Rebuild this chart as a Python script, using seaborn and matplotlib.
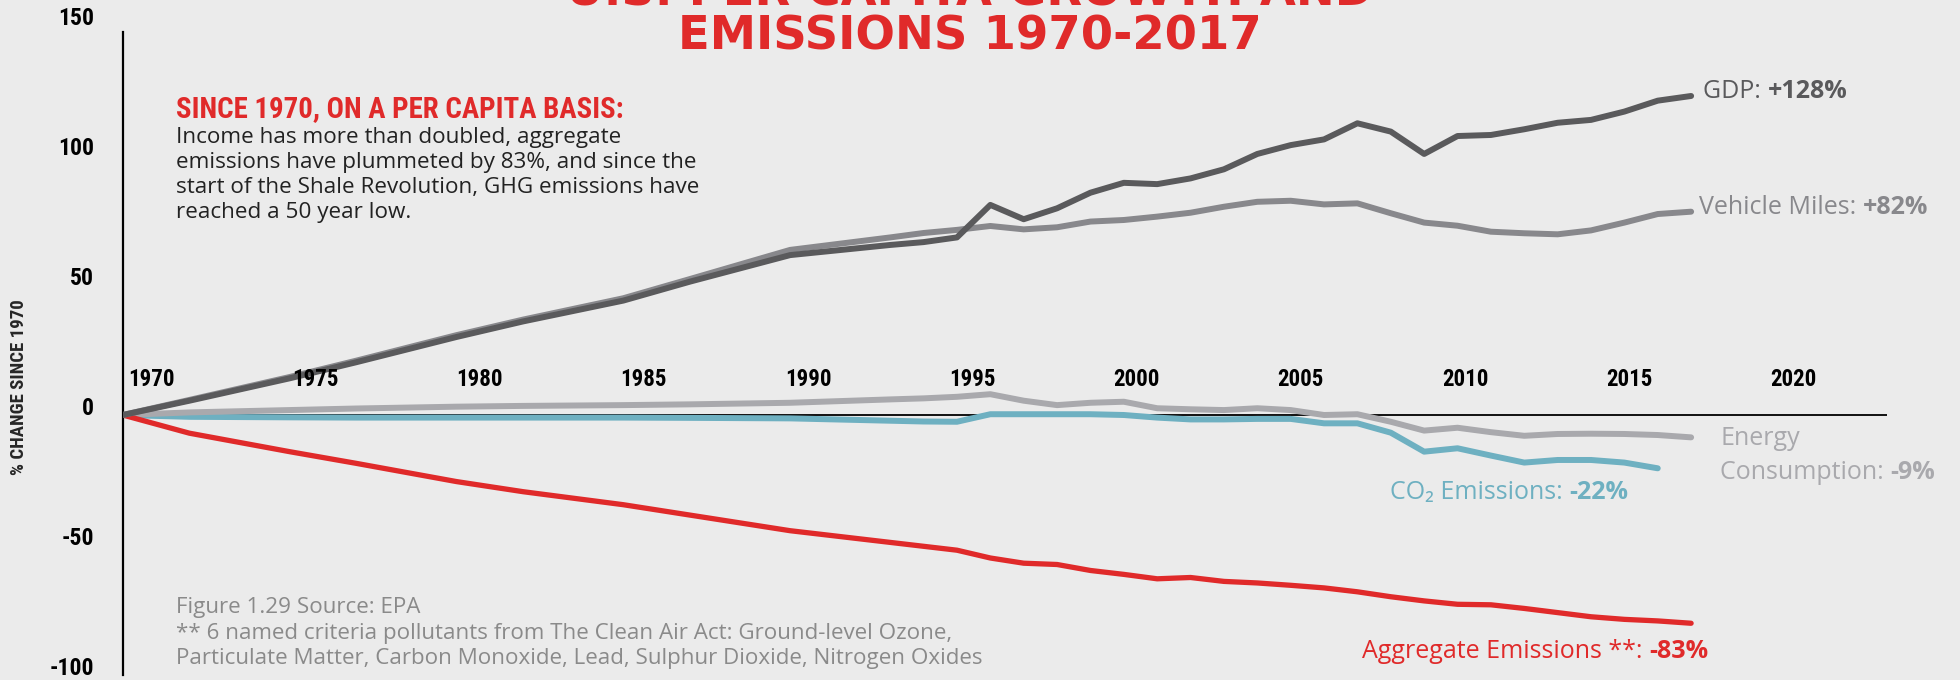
import matplotlib
matplotlib.use("Agg")
import matplotlib.pyplot as plt
import seaborn as sns
import pandas as pd

# ---------------- data ----------------
years = [1970, 1972, 1975, 1977, 1980, 1982, 1985, 1987, 1990, 1993, 1994, 1995,
         1996, 1997, 1998, 1999, 2000, 2001, 2002, 2003, 2004, 2005, 2006, 2007,
         2008, 2009, 2010, 2011, 2012, 2013, 2014, 2015, 2016, 2017]

gdp = [0, 5.5, 14.1, 20.3, 30.0, 36.0, 44.0, 51.3, 61.5, 65.4, 66.5, 68.3,
       80.8, 75.3, 79.5, 85.5, 89.3, 88.8, 91.0, 94.5, 100.4, 103.8, 106.0, 112.2,
       109.0, 100.4, 107.3, 107.7, 109.9, 112.4, 113.5, 116.7, 120.9, 122.7]

vehicle_miles = [0, 5.8, 14.6, 20.9, 30.7, 36.7, 44.9, 52.3, 63.5, 68.3, 70.0, 71.2,
                 72.7, 71.4, 72.2, 74.4, 75.0, 76.3, 77.8, 80.1, 82.0, 82.4, 81.0, 81.4,
                 77.6, 74.0, 72.8, 70.5, 69.9, 69.5, 71.0, 74.0, 77.3, 78.2]

energy = [0, 1.0, 1.9, 2.5, 3.2, 3.5, 3.8, 4.1, 4.7, 6.0, 6.4, 7.0,
          8.0, 5.5, 3.8, 4.7, 5.1, 2.6, 2.2, 1.9, 2.6, 1.9, 0.0, 0.3,
          -2.6, -6.0, -4.9, -6.6, -8.0, -7.3, -7.2, -7.3, -7.7, -8.6]

co2 = [0, -0.7, -0.9, -1.0, -1.0, -1.0, -1.0, -1.1, -1.3, -2.2, -2.5, -2.6,
       0.3, 0.3, 0.3, 0.3, 0.0, -1.0, -1.7, -1.7, -1.5, -1.5, -3.2, -3.2,
       -6.8, -14.1, -12.8, -15.6, -18.3, -17.3, -17.3, -18.3, -20.5]  # ends 2016

aggregate = [0, -7.0, -14.1, -18.6, -25.6, -29.5, -34.5, -38.5, -44.5, -49.0, -50.5, -52.0,
             -55.0, -57.0, -57.5, -59.8, -61.3, -63.0, -62.5, -64.0, -64.6, -65.5, -66.5, -68.0,
             -69.9, -71.5, -72.8, -73.0, -74.4, -76.0, -77.6, -78.6, -79.2, -80.1]

x_ticks = [1970, 1975, 1980, 1985, 1990, 1995, 2000, 2005, 2010, 2015, 2020]
y_ticks = [150, 100, 50, 0, -50, -100]

label_values = {"GDP": "+128%", "Vehicle Miles": "+82%", "Energy Consumption": "-9%",
                "CO2 Emissions": "-22%", "Aggregate Emissions": "-83%"}

title_lines = ["U.S. PER CAPITA GROWTH AND", "EMISSIONS 1970-2017"]
subtitle = "SINCE 1970, ON A PER CAPITA BASIS:"
body_lines = ["Income has more than doubled, aggregate",
              "emissions have plummeted by 83%, and since the",
              "start of the Shale Revolution, GHG emissions have",
              "reached a 50 year low."]
foot_lines = ["Figure 1.29 Source: EPA",
              "** 6 named criteria pollutants from The Clean Air Act: Ground-level Ozone,",
              "Particulate Matter, Carbon Monoxide, Lead, Sulphur Dioxide, Nitrogen Oxides"]

# ---------------- style ----------------
BG = "#ebebeb"
RED = "#e02a2a"
colors = {"GDP": "#5a5a5c", "Vehicle Miles": "#88888c", "Energy Consumption": "#a9a9ad",
          "CO2 Emissions": "#6eb0c1", "Aggregate Emissions": RED}

sns.set_theme(style="white")
plt.rcParams["font.family"] = ["Open Sans", "DejaVu Sans"]
COND = ["Roboto Condensed", "Liberation Sans Narrow", "DejaVu Sans Condensed", "Roboto", "DejaVu Sans"]
BODY = ["Open Sans", "DejaVu Sans"]

fig = plt.figure(figsize=(19.6, 6.8), dpi=100, facecolor=BG)
rect = [122.7 / 1960, 1 - 675 / 680, (1887 - 122.7) / 1960, 650 / 680]
ax = fig.add_axes(rect)
ax.set_facecolor(BG)
ax.set_xlim(1970, 2022.87)
ax.set_ylim(-100, 150)

# year-label axis (the infographic's year labels sit on a slightly tighter scale)
axl = fig.add_axes(rect, sharey=ax)
axl.patch.set_visible(False)
axl.set_xlim(1969.84, 2023.55)
axl.axis("off")

ax.axhline(0, color="black", lw=1.3, zorder=1)

series = {
    "Vehicle Miles": vehicle_miles,
    "GDP": gdp,
    "Energy Consumption": energy,
    "CO2 Emissions": co2,
    "Aggregate Emissions": aggregate,
}
for name in ["CO2 Emissions", "Energy Consumption", "Aggregate Emissions", "Vehicle Miles", "GDP"]:
    vals = series[name]
    df = pd.DataFrame({"year": years[:len(vals)], "value": vals})
    sns.lineplot(data=df, x="year", y="value", ax=ax, color=colors[name],
                 lw=4.3 if name != "Aggregate Emissions" else 3.8,
                 solid_capstyle="round", solid_joinstyle="round", zorder=3)

ax.set_xlabel("")
ax.set_ylabel("")
ax.set_xticks([])
ax.set_yticks([])
for s in ["top", "right", "bottom"]:
    ax.spines[s].set_visible(False)
ax.spines["left"].set_color("black")
ax.spines["left"].set_linewidth(1.6)
ax.spines["left"].set_bounds(-100, 147.5)

for v in y_ticks:
    ax.annotate(str(v), xy=(0, v), xycoords=("axes fraction", "data"),
                xytext=(-20.5, 4.7), textcoords="offset points",
                ha="right", va="center", fontsize=17, fontweight="bold",
                family=COND, color="black")

for yr in x_ticks:
    axl.annotate(str(yr), xy=(yr, 0), xycoords="data",
                 xytext=(0, 25.2), textcoords="offset points",
                 ha="left", va="center", fontsize=16.5, fontweight="bold",
                 family=COND, color="black")

fig.text(19 / 1960, 1 - 387 / 680, "% CHANGE SINCE 1970", rotation=90,
         ha="center", va="center", fontsize=13.5, fontweight="bold", family=COND)

fig.text(970 / 1960, 1 - 6 / 680, title_lines[0], ha="center", va="baseline",
         fontsize=33.5, fontweight="heavy", color=RED, family=["DejaVu Sans"])
fig.text(970 / 1960, 1 - 49 / 680, title_lines[1], ha="center", va="baseline",
         fontsize=33.5, fontweight="heavy", color=RED, family=["DejaVu Sans"])

fig.text(176 / 1960, 1 - 117 / 680, subtitle, ha="left", va="baseline",
         fontsize=20.8, fontweight="bold", color=RED, family=COND)
for i, line in enumerate(body_lines):
    fig.text(176 / 1960, 1 - (143 + 25 * i) / 680, line, ha="left", va="baseline",
             fontsize=16.2, color="#222222", family=BODY)

for i, line in enumerate(foot_lines):
    fig.text(176 / 1960, 1 - (613 + 25.5 * i) / 680, line, ha="left", va="baseline",
             fontsize=16.1, color="#8a8a8a", family=BODY)

PT = 0.72
LFS = 18


def left_label(name, normal, dx_px, dy_px):
    vals = series[name]
    x_end, y_end = years[len(vals) - 1], vals[-1]
    t1 = ax.annotate(normal, xy=(x_end, y_end), xycoords="data",
                     xytext=(dx_px * PT, dy_px * PT), textcoords="offset points",
                     ha="left", va="center", fontsize=LFS, color=colors[name], family=BODY)
    ax.annotate(label_values[name], xy=(1, 0), xycoords=t1, ha="left", va="bottom",
                fontsize=LFS, fontweight="bold", color=colors[name], family=BODY)


def right_label(name, normal, dx_px, dy_px):
    vals = series[name]
    x_end, y_end = years[len(vals) - 1], vals[-1]
    t2 = ax.annotate(label_values[name], xy=(x_end, y_end), xycoords="data",
                     xytext=(dx_px * PT, dy_px * PT), textcoords="offset points",
                     ha="right", va="center", fontsize=LFS, fontweight="bold",
                     color=colors[name], family=BODY)
    ax.annotate(normal, xy=(0, 0), xycoords=t2, ha="right", va="bottom",
                fontsize=LFS, color=colors[name], family=BODY)


left_label("GDP", "GDP: ", 12, 4)
left_label("Vehicle Miles", "Vehicle Miles: ", 8, 4)
e_end = (years[len(energy) - 1], energy[-1])
ax.annotate("Energy", xy=e_end, xycoords="data", xytext=(29 * PT, -1 * PT),
            textcoords="offset points", ha="left", va="center", fontsize=LFS,
            color=colors["Energy Consumption"], family=BODY)
left_label("Energy Consumption", "Consumption: ", 29, -35)
right_label("CO2 Emissions", "CO\u2082 Emissions: ", -29, -24)
right_label("Aggregate Emissions", "Aggregate Emissions **: ", 17, -28)

fig.savefig("out.png", dpi=100, facecolor=BG)
